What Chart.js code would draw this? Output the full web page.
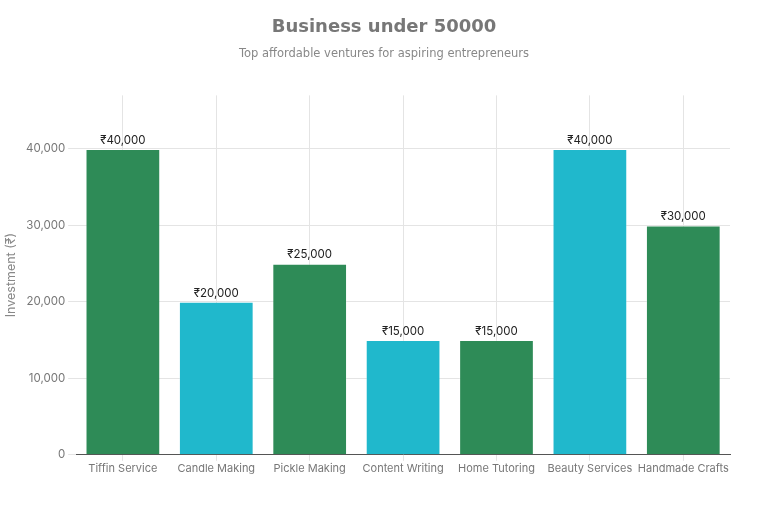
<!DOCTYPE html>
<html>
<head>
<meta charset="utf-8">
<script src="https://cdn.jsdelivr.net/npm/chart.js@4.4.0/dist/chart.umd.min.js"></script>
<style>
  body { margin: 0; background: #fff; }
  #wrap { width: 768px; height: 512px; }
</style>
</head>
<body>
<div id="wrap"><canvas id="graphicBar"></canvas></div>
<script>
const categories = ["Tiffin Service", "Candle Making", "Pickle Making", "Content Writing", "Home Tutoring", "Beauty Services", "Handmade Crafts"];
const investment = [40000, 20000, 25000, 15000, 15000, 40000, 30000];
const yTicks = [0, 10000, 20000, 30000, 40000];

const green = "#2e8b57";
const cyan = "#20b8cc";
const barColors = categories.map((c, i) => (i % 2 === 0 ? green : cyan));

const fmt = (v) => v.toLocaleString("en-US");

// labels above each bar
const valueLabels = {
  id: "valueLabels",
  afterDatasetsDraw(chart) {
    const ctx = chart.ctx;
    const meta = chart.getDatasetMeta(0);
    ctx.save();
    ctx.font = "11.5px Inter";
    ctx.fillStyle = "#222";
    ctx.textAlign = "center";
    ctx.textBaseline = "bottom";
    meta.data.forEach((bar, i) => {
      ctx.fillText("₹" + fmt(investment[i]), bar.x, bar.y - 3);
    });
    ctx.restore();
  },
};

const graphicBar = document.getElementById("graphicBar");

new Chart(graphicBar, {
  type: "bar",
  data: {
    labels: categories,
    datasets: [
      {
        label: "Investment",
        data: investment,
        backgroundColor: barColors,
        borderColor: "rgba(255,255,255,0.25)",
        borderWidth: 1,
        barPercentage: 0.8,
        categoryPercentage: 1,
      },
    ],
  },
  options: {
    responsive: true,
    maintainAspectRatio: false,
    animation: false,
    layout: { padding: { left: 0, right: 0, top: 0, bottom: 36 } },
    plugins: {
      legend: { display: false },
      tooltip: { enabled: false },
      title: {
        display: true,
        text: "Business under 50000",
        color: "#777",
        font: { family: "DejaVu Sans", size: 18, weight: "bold" },
        padding: { top: 17, bottom: 9 },
      },
      subtitle: {
        display: true,
        text: "Top affordable ventures for aspiring entrepreneurs",
        color: "#888",
        font: { family: "DejaVu Sans", size: 11.5 },
        padding: { bottom: 34 },
      },
    },
    scales: {
      x: {
        grid: { color: "#e4e4e4", offset: false, tickLength: 6 },
        border: { color: "#555" },
        ticks: {
          color: "#777",
          maxRotation: 0,
          autoSkip: false,
          padding: 1,
          font: { family: "Inter", size: 11 },
        },
      },
      y: {
        min: 0,
        max: 47000,
        afterBuildTicks: (axis) => {
          axis.ticks = yTicks.map((v) => ({ value: v }));
        },
        grid: { color: "#e4e4e4", tickLength: 8 },
        border: { display: false },
        ticks: {
          color: "#777",
          font: { family: "Inter", size: 11.5 },
          callback: (v) => fmt(v),
        },
        title: {
          display: true,
          text: "Investment (₹)",
          color: "#888",
          font: { family: "Inter", size: 12.5 },
        },
      },
      // empty right gutter so the title stays centred on the page
      gutter: {
        type: "linear",
        position: "right",
        grid: { display: false },
        border: { display: false },
        ticks: { display: false },
        afterFit: (s) => {
          s.width = 38;
        },
      },
    },
  },
  plugins: [valueLabels],
});
</script>
</body>
</html>
